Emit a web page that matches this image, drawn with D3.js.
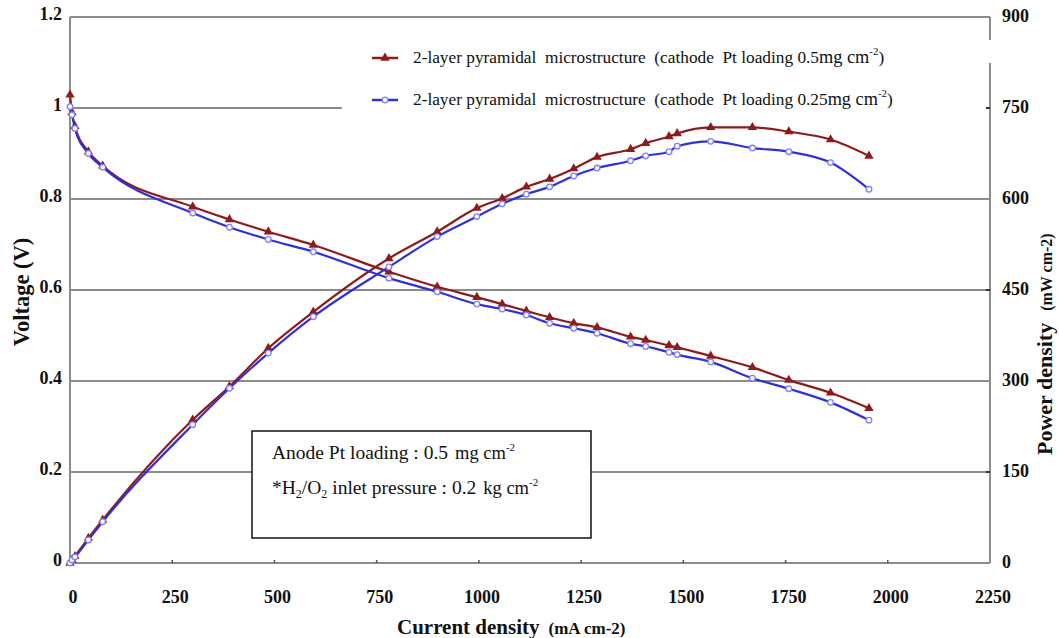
<!DOCTYPE html>
<html>
<head>
  <meta charset='utf-8'>
  <style>
  body { margin: 0; background: #fff; }
  svg { font-family: 'Liberation Serif', 'Times New Roman', serif; }
  .tick-label { font-weight: bold; font-size: 18px; fill: #111; }
  .grid { stroke: #8c8c8c; stroke-width: 2px; }
  .axis-line { stroke: #8c8c8c; stroke-width: 2px; }
  .line { fill: none; stroke-width: 2.2px; }
  </style>
</head>
<body>
<script src='https://cdn.jsdelivr.net/npm/d3@7'></script>
<script>

// current density (mA cm-2)
var current = [0, 5, 12, 45, 80, 300, 390, 485, 595, 780, 898, 995, 1057, 1116, 1173,
               1232, 1289, 1371, 1408, 1465, 1485, 1567, 1669, 1758, 1860, 1954];

// cathode Pt 0.5 mg cm-2
var voltageHigh = [1.029, 0.99, 0.96, 0.904, 0.873, 0.783, 0.755, 0.728, 0.699, 0.640, 0.607, 0.584, 0.569,
                   0.554, 0.540, 0.527, 0.518, 0.497, 0.490, 0.478, 0.474, 0.455, 0.430, 0.402, 0.374, 0.340];
var powerHigh = [0, 5, 11, 41, 71, 236, 291, 354, 414, 502, 546, 585, 601,
                 620, 633, 650, 669, 682, 692, 703, 708, 718, 718, 711, 698, 671];

// cathode Pt 0.25 mg cm-2
var voltageLow = [1.003, 0.985, 0.955, 0.900, 0.870, 0.769, 0.738, 0.711, 0.684, 0.626, 0.596, 0.569, 0.558,
                  0.545, 0.527, 0.516, 0.505, 0.482, 0.476, 0.463, 0.458, 0.442, 0.406, 0.383, 0.353, 0.314];
var powerLow = [0, 5, 10, 38, 68, 228, 288, 346, 406, 488, 538, 571, 592,
                608, 620, 638, 651, 663, 671, 678, 687, 695, 684, 678, 660, 616];

var xTicks = [0, 250, 500, 750, 1000, 1250, 1500, 1750, 2000, 2250];
var vTicks = [0, 0.2, 0.4, 0.6, 0.8, 1, 1.2];
var pTicks = [0, 150, 300, 450, 600, 750, 900];

var RED = '#8e1b1b';
var BLUE = '#3030d6';

var WIDTH = 1059, HEIGHT = 638;

var svg = d3.select('body').append('svg')
    .attr('width', WIDTH)
    .attr('height', HEIGHT);

var x = d3.scaleLinear().domain([0, 2250]).range([70, 990]);
var yV = d3.scaleLinear().domain([0, 1.2]).range([563, 17]);
var yP = d3.scaleLinear().domain([0, 900]).range([563, 17]);

// grid lines (voltage ticks)
svg.append('g').selectAll('line')
  .data(vTicks.filter(function(d) { return d > 0; }))
  .enter().append('line')
    .attr('class', 'grid')
    .attr('x1', x(0)).attr('x2', x(2250))
    .attr('y1', function(d) { return yV(d); })
    .attr('y2', function(d) { return yV(d); });

// legend background hides the grid behind it
svg.append('rect')
    .attr('x', 342).attr('y', 40).attr('width', 648).attr('height', 82)
    .attr('fill', '#fff');

// axes lines
svg.append('line').attr('class', 'axis-line')
    .attr('x1', x(0)).attr('x2', x(0)).attr('y1', yV(1.2)).attr('y2', yV(0));
svg.append('line').attr('class', 'axis-line')
    .attr('x1', x(0)).attr('x2', x(2250)).attr('y1', yV(0)).attr('y2', yV(0));
svg.append('line').attr('class', 'axis-line')
    .attr('x1', x(2250)).attr('x2', x(2250)).attr('y1', yP(900)).attr('y2', 40);
svg.append('line').attr('class', 'axis-line')
    .attr('x1', x(2250)).attr('x2', x(2250)).attr('y1', 63).attr('y2', yP(0));

// small tick marks
svg.append('g').selectAll('line')
  .data(xTicks.slice(1, -1))
  .enter().append('line')
    .attr('x1', function(d) { return x(d); }).attr('x2', function(d) { return x(d); })
    .attr('y1', yV(0) - 3).attr('y2', yV(0))
    .attr('stroke', '#555').attr('stroke-width', 1.5);
svg.append('g').selectAll('line')
  .data([150, 450, 750])
  .enter().append('line')
    .attr('x1', x(2250) - 4).attr('x2', x(2250))
    .attr('y1', function(d) { return yP(d); }).attr('y2', function(d) { return yP(d); })
    .attr('stroke', '#333').attr('stroke-width', 2);

// tick labels
svg.append('g').selectAll('text')
  .data(xTicks)
  .enter().append('text')
    .attr('class', 'tick-label')
    .attr('x', function(d) { return x(d) + 3; })
    .attr('y', 603)
    .attr('text-anchor', 'middle')
    .text(function(d) { return d; });

svg.append('g').selectAll('text')
  .data(vTicks)
  .enter().append('text')
    .attr('class', 'tick-label')
    .attr('x', 62)
    .attr('y', function(d) { return yV(d) + 3; })
    .attr('text-anchor', 'end')
    .text(function(d) { return d === 0 ? '0' : d3.format('~g')(d); });

svg.append('g').selectAll('text')
  .data(pTicks)
  .enter().append('text')
    .attr('class', 'tick-label')
    .attr('x', 1002)
    .attr('y', function(d) { return yP(d) + 5; })
    .text(function(d) { return d; });

// axis titles
var xt = svg.append('text')
    .attr('x', 397).attr('y', 634)
    .attr('font-weight', 'bold').attr('font-size', 21).attr('fill', '#111');
xt.append('tspan').text('Current density');
xt.append('tspan').attr('font-size', 17).attr('dx', 9).text('(mA cm-2)');

svg.append('text')
    .attr('transform', 'translate(29,292) rotate(-90)')
    .attr('text-anchor', 'middle')
    .attr('font-weight', 'bold').attr('font-size', 22.5).attr('fill', '#111')
    .text('Voltage (V)');

var yt = svg.append('text')
    .attr('transform', 'translate(1052,455) rotate(-90)')
    .attr('font-weight', 'bold').attr('font-size', 22).attr('fill', '#111');
yt.append('tspan').text('Power density');
yt.append('tspan').attr('font-size', 16).attr('dx', 12).text('(mW cm-2)');

// annotation box
svg.append('rect')
    .attr('x', 252).attr('y', 431).attr('width', 339).attr('height', 107)
    .attr('fill', '#fff').attr('stroke', '#111').attr('stroke-width', 1.5);

var a1 = svg.append('text').attr('x', 272).attr('y', 459).attr('font-size', 19.5).attr('fill', '#111');
a1.append('tspan').text('Anode Pt loading : 0.5');
a1.append('tspan').attr('dx', 7).attr('font-size', 18.5).text('mg cm');
a1.append('tspan').attr('font-size', 11).attr('dy', -8).text('-2');

var a2 = svg.append('text').attr('x', 272).attr('y', 494).attr('font-size', 19.5).attr('fill', '#111');
a2.append('tspan').text('*H');
a2.append('tspan').attr('font-size', 12).attr('dy', 4).text('2');
a2.append('tspan').attr('dy', -4).text('/O');
a2.append('tspan').attr('font-size', 12).attr('dy', 4).text('2');
a2.append('tspan').attr('dy', -4).text(' inlet pressure : 0.2');
a2.append('tspan').attr('dx', 7).attr('font-size', 18.5).text('kg cm');
a2.append('tspan').attr('font-size', 11).attr('dy', -8).text('-2');

// series
var series = [
  {v: voltageHigh, p: powerHigh, color: RED, marker: 'tri'},
  {v: voltageLow, p: powerLow, color: BLUE, marker: 'circ'}
];

var triangle = d3.symbol().type(d3.symbolTriangle).size(38);

function drawMarkers(parent, pts, s) {
  var g = parent.append('g');
  if (s.marker === 'tri') {
    g.selectAll('path').data(pts).enter().append('path')
      .attr('transform', function(d) { return 'translate(' + d[0] + ',' + d[1] + ')'; })
      .attr('d', triangle)
      .attr('fill', s.color);
  } else {
    g.selectAll('circle').data(pts).enter().append('circle')
      .attr('cx', function(d) { return d[0]; })
      .attr('cy', function(d) { return d[1]; })
      .attr('r', 2.8)
      .attr('fill', '#fff')
      .attr('stroke', '#8080ff')
      .attr('stroke-width', 1.3);
  }
}

var line = d3.line().curve(d3.curveMonotoneX);

series.forEach(function(s) {
  var g = svg.append('g');
  var vPts = current.map(function(c, i) { return [x(c), yV(s.v[i])]; });
  var pPts = current.map(function(c, i) { return [x(c), yP(s.p[i])]; });
  g.append('path').attr('class', 'line').attr('stroke', s.color).attr('d', line(vPts));
  g.append('path').attr('class', 'line').attr('stroke', s.color).attr('d', line(pPts));
  drawMarkers(g, vPts, s);
  drawMarkers(g, pPts, s);
});

// legend
var legend = [
  {label: '2-layer pyramidal  microstructure  (cathode  Pt loading 0.5', color: RED, marker: 'tri', y: 58},
  {label: '2-layer pyramidal  microstructure  (cathode  Pt loading 0.25', color: BLUE, marker: 'circ', y: 100}
];

legend.forEach(function(l) {
  var g = svg.append('g');
  g.append('line')
    .attr('x1', 372).attr('x2', 398).attr('y1', l.y).attr('y2', l.y)
    .attr('stroke', l.color).attr('stroke-width', 2.5);
  drawMarkers(g, [[385, l.y]], l);
  var t = g.append('text')
    .attr('x', 413).attr('y', l.y + 5)
    .attr('font-size', 17.3).attr('fill', '#111')
    .style('white-space', 'pre');
  t.append('tspan').text(l.label);
  t.append('tspan').attr('font-size', 18.3).text('mg cm');
  t.append('tspan').attr('font-size', 11).attr('dy', -8).text('-2');
  t.append('tspan').attr('dy', 8).text(')');
});

</script>
</body>
</html>
